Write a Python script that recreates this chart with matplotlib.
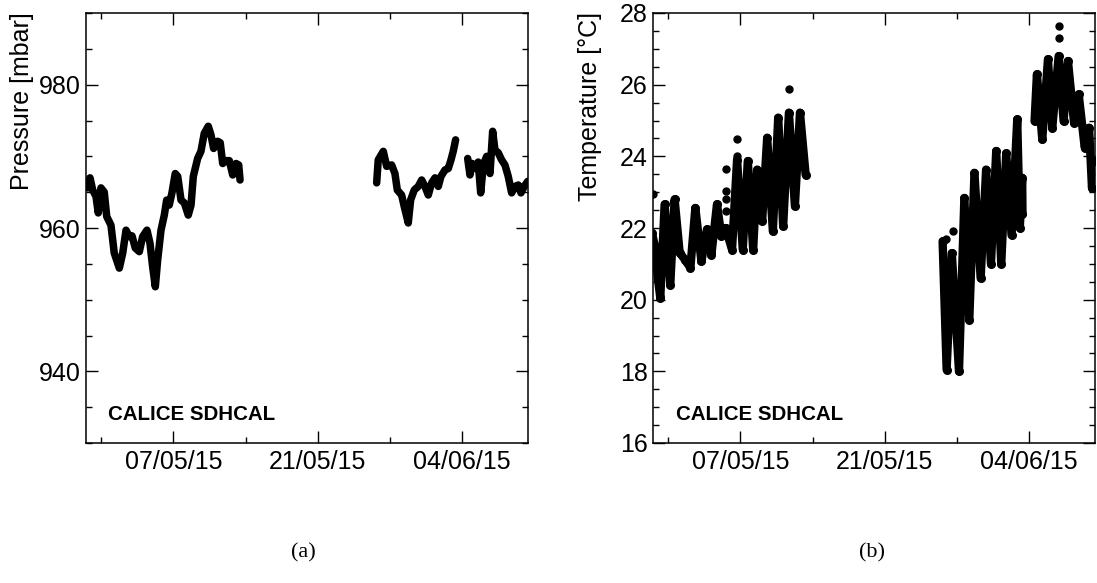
import numpy as np
import pandas as pd
import matplotlib
matplotlib.use("Agg")
import matplotlib.pyplot as plt
import matplotlib.dates as mdates
from matplotlib.ticker import MultipleLocator, FixedLocator

plt.rcParams['font.family'] = ['Liberation Sans', 'DejaVu Sans']

# ---------------- data (days since 2015-04-28 00:00) ----------------
start_date = "2015-04-28"

p_days_1 = [0.71, 0.93, 1.19, 1.51, 1.73, 1.99, 2.31, 2.55, 2.96, 3.28, 3.77, 4.10,
            4.42, 4.74, 5.00, 5.32, 5.71, 6.03, 6.45, 6.74, 7.00, 7.26, 7.49, 7.81,
            8.13, 8.36, 8.61, 8.87, 9.19, 9.43, 9.75, 10.07, 10.45, 10.72, 10.94,
            11.36, 11.68, 12.00, 12.39, 12.65, 12.91, 13.30, 13.55, 13.79, 14.11,
            14.43, 14.76, 15.08, 15.34, 15.47]
p_vals_1 = [965.6, 967.0, 965.3, 964.4, 962.1, 965.6, 965.0, 961.6, 960.4, 956.5,
            954.4, 956.5, 959.7, 958.8, 958.9, 957.2, 956.7, 958.8, 959.7, 957.9,
            954.6, 951.8, 955.6, 959.7, 961.8, 963.9, 963.2, 964.9, 967.6, 967.2,
            963.9, 963.5, 961.8, 963.2, 967.2, 969.7, 970.7, 973.2, 974.2, 973.0,
            971.1, 972.1, 971.9, 969.0, 969.4, 969.4, 967.4, 969.0, 968.8, 966.7]

p_days_2 = [28.71, 28.86, 29.35, 29.68, 30.16, 30.48, 30.71, 31.13, 31.38, 31.62,
            31.77, 32.00, 32.35, 32.74, 33.07, 33.39, 33.71, 34.04, 34.36, 34.68,
            34.94, 35.33, 35.65, 35.91, 36.13, 36.36]
p_vals_2 = [966.3, 969.5, 970.7, 968.6, 968.8, 967.6, 965.3, 964.6, 963.0, 961.6,
            960.7, 963.9, 965.3, 965.8, 966.7, 965.8, 964.6, 966.3, 967.0, 965.8,
            967.2, 968.1, 968.3, 969.5, 970.7, 972.3]

p_days_3 = [37.53, 37.75, 37.97, 38.30, 38.55, 38.79, 39.04, 39.37, 39.69, 39.95,
            40.17, 40.49, 40.82, 41.14, 41.46, 41.79, 42.11, 42.43, 42.69, 43.01,
            43.34]
p_vals_3 = [969.7, 967.4, 969.0, 968.3, 969.2, 964.9, 968.8, 970.0, 967.6, 973.5,
            970.9, 970.5, 969.5, 968.8, 967.2, 964.9, 965.8, 966.0, 964.9, 965.8,
            966.5]

t_days_1 = [0.40, 0.70, 1.00, 1.22, 1.64, 2.19, 2.61, 3.10, 3.60, 4.14, 4.62, 5.21,
            5.75, 6.18, 6.72, 7.15, 7.55, 8.18, 8.67, 9.22, 9.71, 10.23, 10.62,
            11.10, 11.59, 12.14, 12.66, 13.14, 13.70, 14.28, 14.77, 15.32]
t_vals_1 = [21.87, 21.49, 20.56, 20.05, 22.66, 20.42, 22.80, 21.31, 21.12, 20.89,
            22.56, 21.07, 21.96, 21.26, 22.66, 21.77, 22.00, 21.40, 23.91, 21.40,
            23.87, 21.40, 23.63, 22.19, 24.52, 21.91, 25.08, 22.05, 25.22, 22.61,
            25.22, 23.49]

t_days_2 = [28.61, 29.00, 29.50, 30.20, 30.72, 31.20, 31.70, 32.30, 32.83, 33.30,
            33.81, 34.30, 34.78, 35.30, 35.85, 36.10, 36.33, 36.36]
t_vals_2 = [21.63, 18.05, 21.30, 18.00, 22.84, 19.44, 23.54, 20.60, 23.63, 21.00,
            24.15, 21.00, 24.08, 21.80, 25.03, 22.00, 23.40, 22.38]

t_days_3 = [37.53, 37.76, 38.28, 38.83, 39.25, 39.87, 40.35, 40.77, 41.36, 41.81,
            42.40, 42.82, 43.10, 43.37]
t_vals_3 = [24.98, 26.29, 24.47, 26.71, 24.80, 26.80, 24.98, 26.66, 24.94, 25.73,
            24.24, 24.80, 23.12, 23.87]

t_out_days = [0.47, 7.60, 7.60, 7.60, 7.60, 8.67, 8.67, 13.70, 28.90, 29.60,
              39.87, 39.87]
t_out_vals = [22.94, 23.65, 23.03, 22.80, 22.47, 24.49, 24.00, 25.89, 21.68, 21.91,
              27.64, 27.31]

p_ticks = [940, 960, 980]
t_ticks = [16, 18, 20, 22, 24, 26, 28]
major_dates = ["2015-05-07", "2015-05-21", "2015-06-04"]
minor_dates = ["2015-04-30", "2015-05-14", "2015-05-28", "2015-06-11"]
x_limits = ["2015-04-28 13:00", "2015-06-10 09:00"]


def to_dates(days):
    return pd.Timestamp(start_date) + pd.to_timedelta(np.asarray(days), unit="D")


fig = plt.figure(figsize=(10.97, 5.83), dpi=100)
W, H = 1097.0, 583.0
ax1 = fig.add_axes([86 / W, 140 / H, 442 / W, 430 / H])
ax2 = fig.add_axes([653.3 / W, 140 / H, 441.5 / W, 430 / H])

for d, v in [(p_days_1, p_vals_1), (p_days_2, p_vals_2), (p_days_3, p_vals_3)]:
    ax1.plot(to_dates(d), v, color="black", lw=5.4, solid_capstyle="round",
             solid_joinstyle="round")

for d, v in [(t_days_1, t_vals_1), (t_days_2, t_vals_2), (t_days_3, t_vals_3)]:
    ax2.plot(to_dates(d), v, color="black", lw=6.0, solid_capstyle="round",
             solid_joinstyle="round", marker="o", ms=5.5)
ax2.plot(to_dates(t_out_days), t_out_vals, "o", color="black", ms=5.0, lw=0)

for ax in (ax1, ax2):
    ax.set_xlim(pd.Timestamp(x_limits[0]), pd.Timestamp(x_limits[1]))
    ax.xaxis.set_major_locator(FixedLocator(mdates.date2num(pd.to_datetime(major_dates))))
    ax.xaxis.set_minor_locator(FixedLocator(mdates.date2num(pd.to_datetime(minor_dates))))
    ax.xaxis.set_major_formatter(mdates.DateFormatter("%d/%m/%y"))
    ax.tick_params(which="both", direction="in", top=True, right=True,
                   labelsize=18, width=1.0, colors="black")
    ax.tick_params(which="major", length=8.5, pad=4)
    ax.tick_params(which="minor", length=4.5)
    ax.tick_params(axis="x", which="major", pad=5)
    for s in ax.spines.values():
        s.set_linewidth(1.1)
        s.set_color("black")

ax1.set_ylim(930, 990)
ax1.set_yticks(p_ticks)
ax1.yaxis.set_minor_locator(MultipleLocator(5))
ax2.set_ylim(16, 28)
ax2.set_yticks(t_ticks)
ax2.yaxis.set_minor_locator(MultipleLocator(0.5))

fig.text(22 / W, 1 - 12 / H, "Pressure [mbar]", rotation=90, ha="center", va="top",
         fontsize=18)
fig.text(589.5 / W, 1 - 12 / H, "Temperature [°C]", rotation=90, ha="center",
         va="top", fontsize=18)

ax1.text(108 / W, 1 - 415 / H, "CALICE SDHCAL", transform=fig.transFigure,
         fontsize=14.8, fontweight="bold", ha="left", va="center")
ax2.text(676 / W, 1 - 415 / H, "CALICE SDHCAL", transform=fig.transFigure,
         fontsize=14.8, fontweight="bold", ha="left", va="center")

fig.text(303 / W, 1 - 553 / H, "(a)", ha="center", va="center", fontsize=16,
         family=["Liberation Serif", "DejaVu Serif"])
fig.text(872 / W, 1 - 553 / H, "(b)", ha="center", va="center", fontsize=16,
         family=["Liberation Serif", "DejaVu Serif"])

fig.savefig("out.png", dpi=100)
